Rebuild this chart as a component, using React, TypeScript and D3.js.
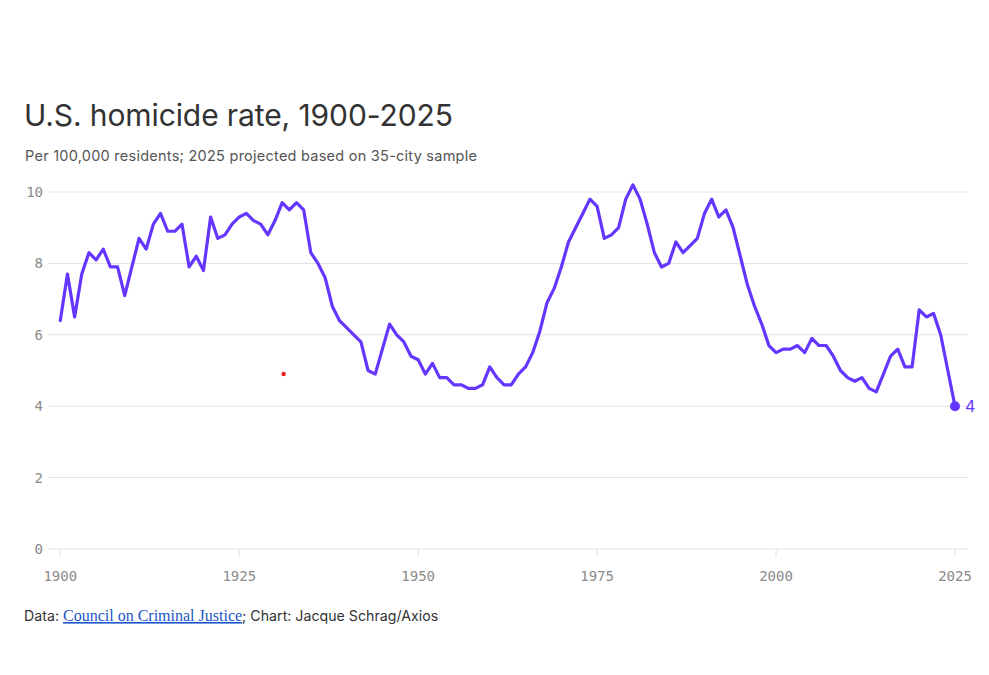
import * as d3 from 'd3';
import React from 'react';

// Homicide rate per 100,000 residents, one value per year from 1900
const startYear = 1900;
const rates = [
  6.4, 7.7, 6.5, 7.7, 8.3, 8.1, 8.4, 7.9, 7.9, 7.1, // 1900s
  7.9, 8.7, 8.4, 9.1, 9.4, 8.9, 8.9, 9.1, 7.9, 8.2, // 1910s
  7.8, 9.3, 8.7, 8.8, 9.1, 9.3, 9.4, 9.2, 9.1, 8.8, // 1920s
  9.2, 9.7, 9.5, 9.7, 9.5, 8.3, 8.0, 7.6, 6.8, 6.4, // 1930s
  6.2, 6.0, 5.8, 5.0, 4.9, 5.6, 6.3, 6.0, 5.8, 5.4, // 1940s
  5.3, 4.9, 5.2, 4.8, 4.8, 4.6, 4.6, 4.5, 4.5, 4.6, // 1950s
  5.1, 4.8, 4.6, 4.6, 4.9, 5.1, 5.5, 6.1, 6.9, 7.3, // 1960s
  7.9, 8.6, 9.0, 9.4, 9.8, 9.6, 8.7, 8.8, 9.0, 9.8, // 1970s
  10.2, 9.8, 9.1, 8.3, 7.9, 8.0, 8.6, 8.3, 8.5, 8.7, // 1980s
  9.4, 9.8, 9.3, 9.5, 9.0, 8.2, 7.4, 6.8, 6.3, 5.7, // 1990s
  5.5, 5.6, 5.6, 5.7, 5.5, 5.9, 5.7, 5.7, 5.4, 5.0, // 2000s
  4.8, 4.7, 4.8, 4.5, 4.4, 4.9, 5.4, 5.6, 5.1, 5.1, // 2010s
  6.7, 6.5, 6.6, 6.0, 5.0, 4.0, // 2020-2025
];
const yearTicks = [1900, 1925, 1950, 1975, 2000, 2025];
const rateTicks = [0, 2, 4, 6, 8, 10];
// stray marker present in the original graphic
const strayPoint = { year: 1931.2, rate: 4.9 };

const title = 'U.S. homicide rate, 1900-2025';
const subtitle = 'Per 100,000 residents; 2025 projected based on 35-city sample';

const W = 989;
const H = 675;
const purple = '#6436ff';
const mono = '"DejaVu Sans Mono", monospace';
const sans = 'Inter, "Noto Sans", sans-serif';

export default function App() {
  const data = rates.map((r, i) => ({ year: startYear + i, rate: r }));
  const x = d3.scaleLinear().domain([1900, 2025]).range([60.3, 955]);
  const y = d3.scaleLinear().domain([0, 10]).range([549, 192]);
  const line = d3
    .line<{ year: number; rate: number }>()
    .x((d) => x(d.year))
    .y((d) => y(d.rate));
  const last = data[data.length - 1];

  return (
    <svg
      width={W}
      height={H}
      viewBox={`0 0 ${W} ${H}`}
      style={{ position: 'absolute', left: 0, top: 0, background: '#fff' }}
    >
      <rect width={W} height={H} fill="#fff" />
      <text x={24} y={126} fontFamily={sans} fontSize={30} fill="#333" letterSpacing={-0.1}>
        {title}
      </text>
      <text x={25} y={161} fontFamily={sans} fontSize={14.5} fill="#555" letterSpacing={0.25}>
        {subtitle}
      </text>

      {rateTicks.map((t) => (
        <g key={t}>
          <line x1={48} x2={968} y1={y(t)} y2={y(t)} stroke="#e2e2e2" strokeWidth={1} />
          <text
            x={43}
            y={y(t)}
            dy="0.35em"
            textAnchor="end"
            fontFamily={mono}
            fontSize={14}
            fill="#8a8a8a"
          >
            {t}
          </text>
        </g>
      ))}

      {yearTicks.map((t) => (
        <g key={t}>
          <line x1={x(t)} x2={x(t)} y1={549} y2={557} stroke="#e2e2e2" strokeWidth={1} />
          <text
            x={x(t)}
            y={581}
            textAnchor="middle"
            fontFamily={mono}
            fontSize={14}
            fill="#8a8a8a"
          >
            {t}
          </text>
        </g>
      ))}

      <path
        d={line(data) || ''}
        fill="none"
        stroke={purple}
        strokeWidth={3.2}
        strokeLinejoin="round"
        strokeLinecap="round"
      />
      <circle cx={x(last.year)} cy={y(last.rate)} r={5} fill={purple} />
      <text
        x={x(last.year) + 10}
        y={y(last.rate)}
        dy="0.35em"
        fontFamily={sans}
        fontSize={16}
        fill={purple}
      >
        {last.rate}
      </text>

      <circle cx={x(strayPoint.year)} cy={y(strayPoint.rate)} r={2.2} fill="#ee1c1c" />

      <text x={24} y={621} fontFamily={sans} fontSize={14.2} fill="#333">
        Data:{' '}
        <tspan
          fontFamily='"Liberation Serif", serif'
          fontSize={16}
          fill="#1a56c8"
          textDecoration="underline"
        >
          Council on Criminal Justice
        </tspan>
        <tspan>; Chart: Jacque Schrag/Axios</tspan>
      </text>
    </svg>
  );
}
